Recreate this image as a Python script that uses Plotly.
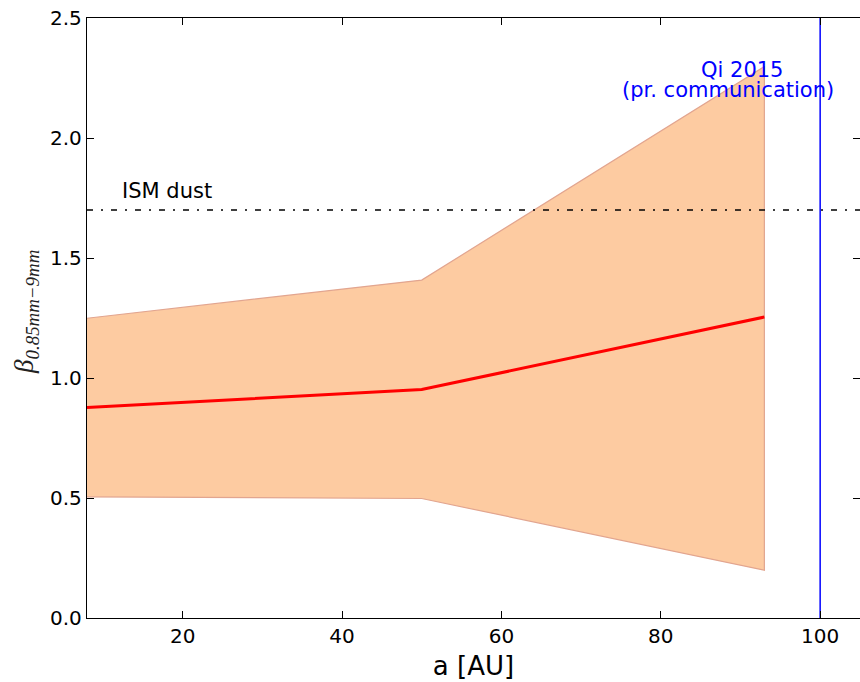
import plotly.graph_objects as go

# Radial bins (AU) and spectral index estimates
a_au = [8, 50, 93]
beta_mid = [0.877, 0.952, 1.254]
beta_hi = [1.249, 1.408, 2.298]
beta_lo = [0.505, 0.498, 0.199]

ism_beta = 1.7
qi_radius = 100

x_range = [8, 105]
y_range = [0, 2.5]
x_ticks = [20, 40, 60, 80, 100]
y_ticks = [0.0, 0.5, 1.0, 1.5, 2.0, 2.5]
y_tick_text = ["0.0", "0.5", "1.0", "1.5", "2.0", "2.5"]

tick_font = dict(family="DejaVu Sans", size=20, color="black")

fig = go.Figure()

# Uncertainty band
fig.add_trace(go.Scatter(
    x=a_au + a_au[::-1],
    y=beta_hi + beta_lo[::-1],
    fill="toself",
    fillcolor="#FDCBA1",
    line=dict(color="#E2A58F", width=1.2),
    mode="lines",
    hoverinfo="skip",
    showlegend=False,
))

# Best estimate
fig.add_trace(go.Scatter(
    x=a_au, y=beta_mid, mode="lines",
    line=dict(color="#FF0000", width=3),
    showlegend=False,
))

# ISM dust reference level
fig.add_trace(go.Scatter(
    x=x_range, y=[ism_beta, ism_beta], mode="lines",
    line=dict(color="black", width=1.6, dash="6px,8px,2px,8px"),
    showlegend=False,
))

# Qi 2015 radius
fig.add_trace(go.Scatter(
    x=[qi_radius, qi_radius], y=y_range, mode="lines",
    line=dict(color="#0000FF", width=1.5),
    showlegend=False,
))

# Placeholder trace for the right-hand tick axis
fig.add_trace(go.Scatter(x=[None], y=[None], yaxis="y2", mode="lines",
                         showlegend=False, hoverinfo="skip"))

fig.add_annotation(x=12.2, y=1.778, xref="x", yref="y", text="ISM dust",
                   showarrow=False, xanchor="left", yanchor="middle",
                   font=dict(family="DejaVu Sans", size=21, color="black"))
fig.add_annotation(x=90.2, y=2.282, xref="x", yref="y", text="Qi 2015",
                   showarrow=False, xanchor="center", yanchor="middle",
                   font=dict(family="DejaVu Sans", size=21, color="#0000FF"))
fig.add_annotation(x=88.4, y=2.202, xref="x", yref="y", text="(pr. communication)",
                   showarrow=False, xanchor="center", yanchor="middle",
                   font=dict(family="DejaVu Sans", size=21, color="#0000FF"))

# Y-axis label
fig.add_annotation(x=-0.079, y=0.51, xref="paper", yref="paper",
                   text="<i>β</i><sub><i>0.85mm−9mm</i></sub>",
                   textangle=-90, showarrow=False, xanchor="center", yanchor="middle",
                   font=dict(family="Liberation Serif", size=27, color="#222222"))

fig.update_layout(
    width=860, height=682,
    margin=dict(l=87, r=0, t=18, b=64),
    plot_bgcolor="white", paper_bgcolor="white",
    xaxis=dict(
        range=x_range, tickvals=x_ticks, ticks="inside", ticklen=7, tickwidth=1,
        tickcolor="black", showline=True, linecolor="black", linewidth=1.3,
        mirror="ticks", showgrid=False, zeroline=False, tickfont=tick_font,
        title=dict(text="a [AU]", font=dict(family="DejaVu Sans", size=26, color="black"),
                   standoff=9),
    ),
    yaxis=dict(
        range=y_range, tickvals=y_ticks, ticktext=y_tick_text, ticks="inside",
        ticklen=7, tickwidth=1, tickcolor="black", showline=True, linecolor="black",
        linewidth=1.3, mirror=False, showgrid=False, zeroline=False, tickfont=tick_font,
    ),
    yaxis2=dict(
        range=y_range, tickvals=y_ticks, overlaying="y", side="right", anchor="x",
        ticks="inside", ticklen=7, tickwidth=1, tickcolor="black",
        showticklabels=False, showline=False, showgrid=False, zeroline=False,
    ),
)

fig.write_html("out.html")
